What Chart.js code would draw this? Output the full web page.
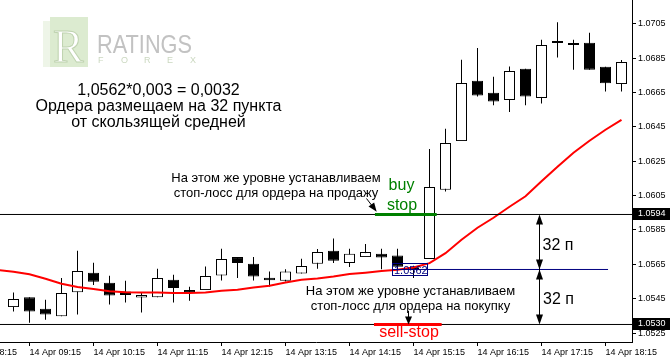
<!DOCTYPE html>
<html>
<head>
<meta charset="utf-8">
<script src="https://cdn.jsdelivr.net/npm/chart.js@4.4.1/dist/chart.umd.min.js"></script>
<style>
  html, body { margin: 0; padding: 0; background: #fff; }
  canvas { display: block; }
</style>
</head>
<body>
<canvas id="chart" width="670" height="359"></canvas>
<script>
// 15 minute bars, 14 Apr
const candleTimes = ['09:00', '09:15', '09:30', '09:45', '10:00', '10:15', '10:30', '10:45', '11:00', '11:15',
    '11:30', '11:45', '12:00', '12:15', '12:30', '12:45', '13:00', '13:15', '13:30', '13:45',
    '14:00', '14:15', '14:30', '14:45', '15:00', '15:15', '15:30', '15:45', '16:00', '16:15',
    '16:30', '16:45', '17:00', '17:15', '17:30', '17:45', '18:00', '18:15', '18:30'];

const opens = [1.05401, 1.05459, 1.05391, 1.05348, 1.05488, 1.05601, 1.05543, 1.05492, 1.05457, 1.05459,
    1.05560, 1.05500, 1.05500, 1.05585, 1.05692, 1.05653, 1.05572, 1.05554, 1.05597, 1.05653,
    1.05729, 1.05657, 1.05692, 1.05711, 1.05702, 1.05627, 1.05681, 1.06084, 1.06367, 1.06718,
    1.06648, 1.06606, 1.06788, 1.06618, 1.06938, 1.06926, 1.06939, 1.06800, 1.06699];
const highs = [1.05486, 1.05459, 1.05444, 1.05570, 1.05729, 1.05659, 1.05583, 1.05554, 1.05483, 1.05624,
    1.05589, 1.05519, 1.05637, 1.05740, 1.05692, 1.05692, 1.05608, 1.05622, 1.05682, 1.05739,
    1.05800, 1.05740, 1.05768, 1.05740, 1.05740, 1.05642, 1.06321, 1.06439, 1.06840, 1.06909,
    1.06742, 1.06801, 1.06788, 1.06957, 1.07058, 1.06957, 1.06998, 1.06800, 1.06839];
const lows = [1.05376, 1.05310, 1.05327, 1.05348, 1.05358, 1.05529, 1.05416, 1.05428, 1.05370, 1.05459,
    1.05428, 1.05438, 1.05500, 1.05556, 1.05570, 1.05556, 1.05521, 1.05550, 1.05597, 1.05624,
    1.05657, 1.05634, 1.05692, 1.05622, 1.05618, 1.05570, 1.05681, 1.06074, 1.06367, 1.06627,
    1.06575, 1.06536, 1.06575, 1.06586, 1.06854, 1.06782, 1.06782, 1.06656, 1.06656];
const closes = [1.05448, 1.05376, 1.05358, 1.05483, 1.05611, 1.05548, 1.05469, 1.05471, 1.05471, 1.05570,
    1.05512, 1.05483, 1.05582, 1.05681, 1.05657, 1.05579, 1.05558, 1.05608, 1.05640, 1.05721,
    1.05671, 1.05711, 1.05721, 1.05690, 1.05636, 1.05621, 1.06100, 1.06356, 1.06705, 1.06633,
    1.06598, 1.06775, 1.06627, 1.06926, 1.06938, 1.06926, 1.06782, 1.06703, 1.06827];

// moving average, starts one bar earlier (08:45)
const maTimes = ['08:45'].concat(candleTimes);
const maValues = [1.05617, 1.05607, 1.05592, 1.05566, 1.05537, 1.05518, 1.05506, 1.05493, 1.05487, 1.05486,
    1.05486, 1.05483, 1.05483, 1.05486, 1.05496, 1.05502, 1.05515, 1.05525, 1.05544, 1.05560,
    1.05568, 1.05579, 1.05593, 1.05601, 1.05611, 1.05618, 1.05632, 1.05657, 1.05715, 1.05793,
    1.05863, 1.05921, 1.05985, 1.06046, 1.06133, 1.06218, 1.06299, 1.06369, 1.06433, 1.06491];

const hourLabels = ['14 Apr 08:15', '14 Apr 09:15', '14 Apr 10:15', '14 Apr 11:15', '14 Apr 12:15', '14 Apr 13:15',
    '14 Apr 14:15', '14 Apr 15:15', '14 Apr 16:15', '14 Apr 17:15', '14 Apr 18:15'];
const priceTicks = [1.0525, 1.0545, 1.0565, 1.0585, 1.0605, 1.0625, 1.0645, 1.0665, 1.0685, 1.0705];

const buyStopLevel = 1.0594;
const sellStopLevel = 1.0530;
const maLevel = 1.0562;

// bar index from "HH:MM", 09:00 = 0
const toIdx = t => {
    const [h, m] = t.slice(-5).split(':').map(Number);
    return (h * 60 + m - 540) / 15;
};

const xMin = -0.84375, xMax = 38.65625;
const font9 = { family: '"Liberation Sans", Arial, sans-serif', size: 9 };

const wicks = candleTimes.map((t, i) => ({ x: toIdx(t), y: [lows[i], highs[i]] }));
const bodies = candleTimes.map((t, i) => ({ x: toIdx(t), y: [opens[i], closes[i]] }));
const bodyFill = candleTimes.map((t, i) => closes[i] > opens[i] ? '#ffffff' : '#000000');
const maLine = maTimes.map((t, i) => ({ x: toIdx(t), y: maValues[i] }));

function hline(level, from, to, color, width) {
    return {
        type: 'line',
        data: [{ x: from, y: level }, { x: to, y: level }],
        borderColor: color,
        borderWidth: width,
        pointRadius: 0,
        order: 0,
    };
}

function arrowHead(ctx, x, y, dx, dy, len, half) {
    const d = Math.hypot(dx, dy);
    const ux = dx / d, uy = dy / d;
    ctx.beginPath();
    ctx.moveTo(x, y);
    ctx.lineTo(x - ux * len - uy * half, y - uy * len + ux * half);
    ctx.lineTo(x - ux * len + uy * half, y - uy * len - ux * half);
    ctx.closePath();
    ctx.fill();
}

const notes = {
    id: 'notes',
    beforeDatasetsDraw(chart) {
        const ctx = chart.ctx;
        ctx.save();
        // logo
        ctx.fillStyle = '#eef5e8';
        ctx.fillRect(43, 21, 38, 46);
        ctx.fillStyle = '#dcebd0';
        ctx.fillRect(50, 17, 38, 50);
        ctx.font = '46px "Liberation Serif", serif';
        ctx.fillStyle = '#ffffff';
        ctx.strokeStyle = '#bfd3b0';
        ctx.lineWidth = 1;
        ctx.fillText('R', 53, 62);
        ctx.strokeText('R', 53, 62);
        ctx.font = '25px "Liberation Sans", Arial, sans-serif';
        ctx.fillStyle = '#c2c2c2';
        ctx.fillText('RATINGS', 97, 53, 95);
        ctx.font = '9px "Liberation Sans", Arial, sans-serif';
        ctx.fillStyle = '#cbd8c0';
        'FOREX'.split('').forEach((c, k) => ctx.fillText(c, 98 + k * 23, 63));

        // caption
        ctx.fillStyle = '#000';
        ctx.textAlign = 'center';
        ctx.font = '16px "Liberation Sans", Arial, sans-serif';
        ctx.fillText('1,0562*0,003 = 0,0032', 158.5, 95);
        ctx.fillText('Ордера размещаем на 32 пункта', 158.5, 111);
        ctx.fillText('от скользящей средней', 158.5, 127);
        ctx.restore();
    },
    afterDatasetsDraw(chart) {
        const ctx = chart.ctx;
        const x = chart.scales.x, y = chart.scales.y;
        ctx.save();
        ctx.fillStyle = '#000';
        ctx.font = '13px "Liberation Sans", Arial, sans-serif';
        ctx.textAlign = 'center';
        ctx.fillText('На этом же уровне устанавливаем', 276, 181.5);
        ctx.fillText('стоп-лосс для ордера на продажу', 276, 196.5);
        ctx.fillText('На этом же уровне устанавливаем', 410.5, 294.5);
        ctx.fillText('стоп-лосс для ордера на покупку', 410.5, 309.5);

        ctx.font = '16px "Liberation Sans", Arial, sans-serif';
        ctx.fillStyle = '#008000';
        ctx.fillText('buy', 401.5, 190);
        ctx.fillText('stop', 402, 209.5);
        ctx.fillStyle = '#ff0000';
        ctx.fillText('sell-stop', 409, 337);
        ctx.fillStyle = '#000';
        ctx.textAlign = 'left';
        ctx.fillText('32 п', 542.5, 250);
        ctx.fillText('32 п', 543, 304);

        // arrows
        ctx.strokeStyle = '#000';
        ctx.lineWidth = 1;
        ctx.beginPath();
        ctx.moveTo(366.5, 198.5);
        ctx.lineTo(373, 207);
        ctx.moveTo(408.5, 311);
        ctx.lineTo(408.5, 318);
        ctx.stroke();
        arrowHead(ctx, 376.7, 211.7, 10, 13.4, 9, 3.5);
        arrowHead(ctx, 408.5, 324.5, 0, 1, 8, 3.5);

        const ax = Math.round(x.getPixelForValue(32.86)) + 0.5;
        const yb = y.getPixelForValue(buyStopLevel);
        const ym = y.getPixelForValue(maLevel);
        const ys = y.getPixelForValue(sellStopLevel);
        ctx.beginPath();
        ctx.moveTo(ax, yb + 6);
        ctx.lineTo(ax, ys - 6);
        ctx.stroke();
        arrowHead(ctx, ax, yb, 0, -1, 10, 3.5);
        arrowHead(ctx, ax, ym, 0, 1, 10, 3.5);
        arrowHead(ctx, ax, ym, 0, -1, 10, 3.5);
        arrowHead(ctx, ax, ys, 0, 1, 10, 3.5);

        // price label of the average
        const bx = x.getPixelForValue(23.68);
        ctx.strokeStyle = '#000080';
        ctx.strokeRect(Math.round(bx) + 0.5, Math.round(ym) - 5.5, 35, 12);
        ctx.fillStyle = '#000080';
        ctx.font = '11px "Liberation Sans", Arial, sans-serif';
        ctx.fillText(maLevel.toFixed(4), Math.round(bx) + 2, Math.round(ym) + 5);
        ctx.restore();
    },
    afterDraw(chart) {
        const ctx = chart.ctx;
        const y = chart.scales.y;
        ctx.save();
        ctx.font = '9px "Liberation Sans", Arial, sans-serif';
        ctx.textBaseline = 'middle';
        [buyStopLevel, sellStopLevel].forEach(v => {
            const py = Math.round(y.getPixelForValue(v));
            ctx.fillStyle = '#000';
            ctx.fillRect(chart.chartArea.right + 1, py - 6, 38, 12);
            ctx.fillStyle = '#fff';
            ctx.fillText(v.toFixed(4), chart.chartArea.right + 6, py);
        });
        ctx.restore();
    },
};

const config = {
    type: 'bar',
    data: {
        datasets: [
            hline(buyStopLevel, 22.59, 26.45, '#008000', 3),
            hline(sellStopLevel, 22.53, 26.76, '#ff0000', 3),
            hline(buyStopLevel, xMin, xMax, '#000000', 1),
            hline(sellStopLevel, xMin, xMax, '#000000', 1),
            hline(maLevel, 23.68, 37.16, '#000080', 1),
            {
                type: 'line',
                label: 'MA',
                data: maLine,
                borderColor: '#ff0000',
                borderWidth: 2,
                pointRadius: 0,
                tension: 0,
                order: 1,
            },
            {
                label: 'bodies',
                data: bodies,
                backgroundColor: bodyFill,
                borderColor: '#000',
                borderWidth: 1,
                borderSkipped: false,
                inflateAmount: 0,
                barThickness: 11,
                minBarLength: 2,
                grouped: false,
                order: 2,
            },
            {
                label: 'wicks',
                data: wicks,
                backgroundColor: '#000',
                borderWidth: 0,
                inflateAmount: 0,
                barThickness: 1,
                grouped: false,
                order: 3,
            },
        ],
    },
    options: {
        responsive: false,
        animation: false,
        events: [],
        devicePixelRatio: 1,
        layout: { padding: 0 },
        plugins: {
            legend: { display: false },
            tooltip: { enabled: false },
        },
        scales: {
            x: {
                type: 'linear',
                min: xMin,
                max: xMax,
                offset: false,
                grid: { drawOnChartArea: false, offset: false, tickLength: 4, color: '#000' },
                border: { color: '#000' },
                afterBuildTicks: s => { s.ticks = hourLabels.map(l => ({ value: toIdx(l) })); },
                ticks: {
                    autoSkip: false,
                    maxRotation: 0,
                    align: 'start',
                    padding: 1,
                    color: '#000',
                    font: font9,
                    callback: (v, i) => hourLabels[i],
                },
                afterFit: s => { s.height = 17; s.paddingLeft = 0; s.paddingRight = 0; },
            },
            y: {
                type: 'linear',
                position: 'right',
                min: 1.05198,
                max: 1.07188,
                grid: { drawOnChartArea: false, tickLength: 4, color: '#000' },
                border: { color: '#000' },
                afterBuildTicks: s => { s.ticks = priceTicks.map(v => ({ value: v })); },
                ticks: {
                    padding: 2,
                    color: '#000',
                    font: font9,
                    callback: v => v.toFixed(4),
                },
                afterFit: s => { s.width = 38; s.paddingTop = 0; s.paddingBottom = 0; },
            },
        },
    },
    plugins: [notes],
};

const ctx = document.getElementById('chart').getContext('2d');
const myChart = new Chart(ctx, config);
</script>
</body>
</html>
